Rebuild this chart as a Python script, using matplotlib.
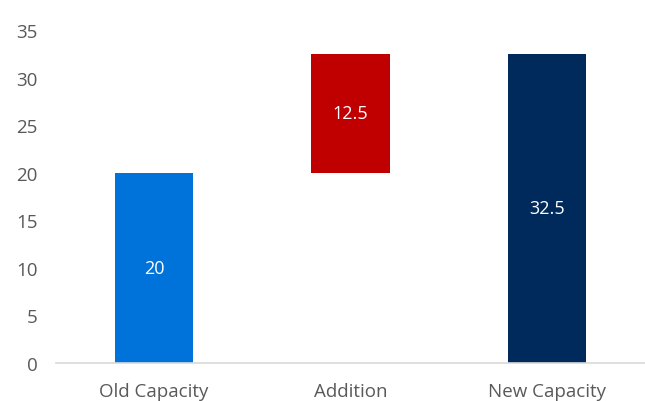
import matplotlib
matplotlib.use("Agg")
import matplotlib.pyplot as plt

categories = ["Old Capacity", "Addition", "New Capacity"]
values = [20, 12.5, 32.5]
bases = [0, 20, 0]
labels = ["20", "12.5", "32.5"]
colors = ["#0073DA", "#C00000", "#002A5C"]
yticks = [0, 5, 10, 15, 20, 25, 30, 35]

plt.rcParams['font.family'] = ['Open Sans', 'DejaVu Sans']

fig = plt.figure(figsize=(6.45, 4.02), dpi=100)
ax = fig.add_axes([56/645, 1-364/402, 1-56/645, (364-31)/402])

x = range(len(categories))
bars = ax.bar(x, values, bottom=bases, width=0.40, color=colors, zorder=2)
for b, lab in zip(bars, labels):
    ax.text(b.get_x() + b.get_width()/2, b.get_y() + b.get_height()/2, lab,
            ha='center', va='center', color='white', fontsize=13)

ax.set_xlim(-0.5, 2.5)
ax.set_ylim(0, 35)
ax.set_yticks(yticks)
ax.set_xticks(list(x))
ax.set_xticklabels(categories)
for s in ['top', 'right', 'left']:
    ax.spines[s].set_visible(False)
ax.spines['bottom'].set_color('#D9D9D9')
ax.spines['bottom'].set_linewidth(1.2)
ax.tick_params(axis='both', length=0, colors='#595959', labelsize=13.5)
ax.tick_params(axis='y', pad=13)
ax.tick_params(axis='x', pad=14)

fig.savefig("out.png", dpi=100)
